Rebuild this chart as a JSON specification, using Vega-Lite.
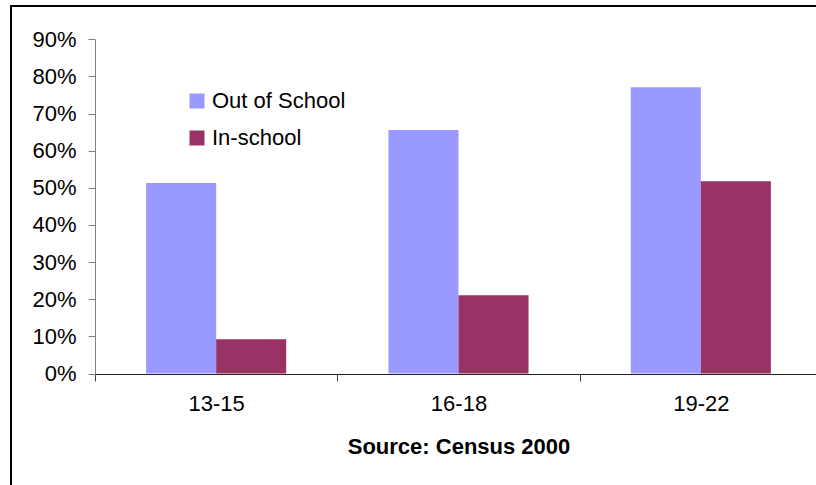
{
  "$schema": "https://vega.github.io/schema/vega-lite/v6.json",
  "width": 820,
  "height": 490,
  "autosize": {"type": "none"},
  "padding": {"left": 11, "top": 6, "right": 0, "bottom": 0},
  "background": "white",
  "config": {
    "font": "Liberation Sans",
    "view": {"stroke": "#000000", "strokeWidth": 2}
  },
  "data": {
    "values": [
      {"age": "13-15", "status": "Out of School", "share": 0.513},
      {"age": "13-15", "status": "In-school", "share": 0.092},
      {"age": "16-18", "status": "Out of School", "share": 0.656},
      {"age": "16-18", "status": "In-school", "share": 0.211},
      {"age": "19-22", "status": "Out of School", "share": 0.771},
      {"age": "19-22", "status": "In-school", "share": 0.518}
    ]
  },
  "mark": {"type": "bar"},
  "encoding": {
    "x": {
      "field": "age",
      "type": "nominal",
      "sort": ["13-15", "16-18", "19-22"],
      "scale": {"range": [84, 811], "paddingInner": 0, "paddingOuter": 0},
      "axis": {
        "title": "Source: Census 2000",
        "titleFontSize": 22,
        "titleFontWeight": "bold",
        "titleColor": "#000000",
        "titlePadding": 22,
        "labelAngle": 0,
        "labelFontSize": 22,
        "labelColor": "#000000",
        "labelPadding": 12,
        "tickBand": "extent",
        "tickSize": 7,
        "tickColor": "#404040",
        "domainColor": "#202020",
        "offset": -122
      }
    },
    "xOffset": {
      "field": "status",
      "type": "nominal",
      "sort": ["Out of School", "In-school"],
      "scale": {"paddingInner": 0, "paddingOuter": 0.73}
    },
    "y": {
      "field": "share",
      "type": "quantitative",
      "scale": {"domain": [0, 0.9], "nice": false, "range": [367.5, 33.3]},
      "axis": {
        "title": null,
        "format": ".0%",
        "values": [0, 0.1, 0.2, 0.3, 0.4, 0.5, 0.6, 0.7, 0.8, 0.9],
        "grid": false,
        "labelFontSize": 22,
        "labelColor": "#000000",
        "labelPadding": 12,
        "tickSize": 7,
        "tickColor": "#808080",
        "domainColor": "#808080",
        "offset": -84
      }
    },
    "color": {
      "field": "status",
      "type": "nominal",
      "sort": ["Out of School", "In-school"],
      "scale": {"domain": ["Out of School", "In-school"], "range": ["#9999FF", "#993366"]},
      "legend": {
        "title": null,
        "orient": "none",
        "legendX": 175,
        "legendY": 84,
        "symbolType": "square",
        "symbolSize": 225,
        "symbolStrokeWidth": 0,
        "symbolOpacity": 1,
        "labelFontSize": 22,
        "labelColor": "#000000",
        "labelOffset": 4,
        "rowPadding": 15
      }
    }
  }
}
